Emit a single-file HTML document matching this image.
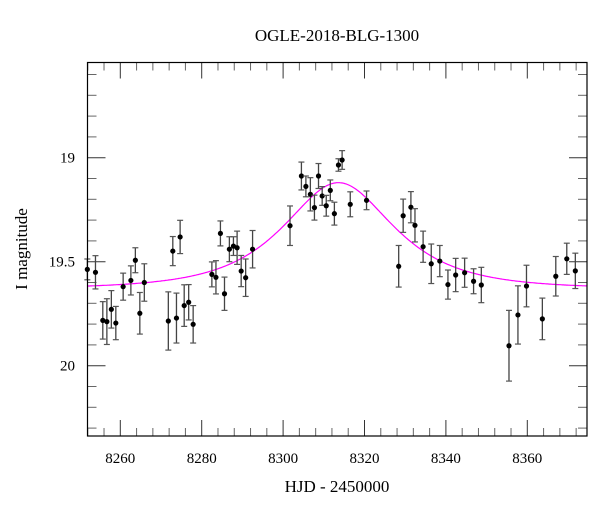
<!DOCTYPE html>
<html><head><meta charset="utf-8"><style>
body{margin:0;background:#fff}
svg text{font-family:"Liberation Serif",serif;fill:#000}
</style></head><body>
<svg id="chart" width="600" height="512" xmlns="http://www.w3.org/2000/svg">
<text x="337" y="41" font-size="17" text-anchor="middle">OGLE-2018-BLG-1300</text>
<text x="337" y="492" font-size="17" text-anchor="middle">HJD - 2450000</text>
<text x="27" y="249" font-size="17" text-anchor="middle" transform="rotate(-90 27 249)">I magnitude</text>
<g id="ticks"></g>
<g id="marks"></g>
<rect x="87.5" y="62.5" width="499.5" height="373.5" fill="none" stroke="#000" stroke-width="1.2"/>
</svg>
<script>
const days=[8251.9,8253.9,8255.7,8256.7,8257.8,8258.9,8260.7,8262.6,8263.7,8264.8,8265.9,8271.8,8272.9,8273.8,8274.7,8275.7,8276.8,8277.9,8282.5,8283.5,8284.6,8285.6,8286.8,8287.8,8288.7,8289.7,8290.8,8292.5,8301.7,8304.5,8305.6,8306.7,8307.7,8308.7,8309.6,8310.6,8311.6,8312.6,8313.6,8314.5,8316.5,8320.5,8328.4,8329.5,8331.4,8332.4,8334.4,8336.4,8338.5,8340.5,8342.4,8344.6,8346.8,8348.7,8355.5,8357.7,8359.8,8363.7,8367.0,8369.7,8371.8];
const mags=[19.537,19.551,19.782,19.788,19.729,19.795,19.62,19.59,19.493,19.748,19.6,19.785,19.449,19.771,19.381,19.711,19.695,19.801,19.561,19.575,19.364,19.654,19.44,19.425,19.433,19.545,19.577,19.44,19.327,19.088,19.138,19.176,19.24,19.088,19.184,19.231,19.157,19.269,19.035,19.011,19.224,19.205,19.522,19.279,19.238,19.325,19.428,19.51,19.497,19.61,19.564,19.553,19.594,19.612,19.904,19.756,19.617,19.775,19.57,19.486,19.544];
const errs=[0.05,0.08,0.09,0.11,0.09,0.08,0.065,0.07,0.06,0.1,0.09,0.14,0.07,0.12,0.08,0.1,0.085,0.09,0.06,0.08,0.06,0.08,0.06,0.045,0.08,0.075,0.09,0.09,0.095,0.067,0.05,0.08,0.06,0.06,0.045,0.05,0.05,0.055,0.03,0.045,0.06,0.045,0.1,0.08,0.075,0.08,0.075,0.095,0.075,0.07,0.08,0.07,0.06,0.085,0.17,0.14,0.1,0.1,0.095,0.075,0.085];
const xTicks=[8260,8280,8300,8320,8340,8360];
const yTicks=[19,19.5,20];
const model={t0:8313.6,tE:19.1,u0:0.75,base:19.63};
const L=87.5,R=587,T=62.5,B=436;
const xs=d=>120.3+(d-8260)*4.07;
const ys=m=>157.7+(m-19)*208;
const NS='http://www.w3.org/2000/svg';
function mk(p,tag,a){const e=document.createElementNS(NS,tag);for(const k in a)e.setAttribute(k,a[k]);p.appendChild(e);return e;}
const tg=document.getElementById('ticks');
for(let d=8252;d<=8374;d+=4){const x=xs(d);const maj=(d%20===0);const len=maj?16:8;
 const t1=mk(tg,'line',{x1:x,x2:x,y1:B,y2:B-len,stroke:maj?'#333':'#666','stroke-width':1});
 
 const t2=mk(tg,'line',{x1:x,x2:x,y1:T,y2:T+len,stroke:maj?'#333':'#666','stroke-width':1});
 }
for(let i=0;i<=18;i++){const m=18.6+i*0.1;const y=ys(m);if(y<T||y>B)continue;const maj=Math.abs(m*2-Math.round(m*2))<1e-6;const len=maj?18:9;
 const t1=mk(tg,'line',{x1:L,x2:L+len,y1:y,y2:y,stroke:maj?'#333':'#666','stroke-width':1});
 
 const t2=mk(tg,'line',{x1:R,x2:R-len,y1:y,y2:y,stroke:maj?'#333':'#666','stroke-width':1});
 }
xTicks.forEach(d=>{const t=mk(tg,'text',{x:xs(d),y:463,'font-size':15,'text-anchor':'middle'});t.textContent=d;
 });
yTicks.forEach(m=>{const t=mk(tg,'text',{x:75,y:ys(m)+5,'font-size':15,'text-anchor':'end'});t.textContent=m;
 });
const mg=document.getElementById('marks');
let pts=[];for(let x=L;x<=R;x+=1){const d=8260+(x-120.3)/4.07;const u=Math.sqrt(model.u0**2+((d-model.t0)/model.tE)**2);const A=(u*u+2)/(u*Math.sqrt(u*u+4));pts.push(x.toFixed(1)+','+ys(model.base-2.5*Math.log10(A)).toFixed(1));}
const pl=mk(mg,'polyline',{points:pts.join(' '),fill:'none',stroke:'#ff00ff','stroke-width':1.2});

days.forEach((d,i)=>{const x=xs(d),y=ys(mags[i]),e=errs[i]*208;
 const g=mk(mg,'g',{});
 
 mk(g,'line',{x1:x,x2:x,y1:Math.max(T,y-e),y2:Math.min(B,y+e),stroke:'#444','stroke-width':1.3});
 if(y-e>T)mk(g,'line',{x1:x-3,x2:x+3,y1:y-e,y2:y-e,stroke:'#555','stroke-width':1.2});
 if(y+e<B)mk(g,'line',{x1:x-3,x2:x+3,y1:y+e,y2:y+e,stroke:'#555','stroke-width':1.2});
 mk(g,'circle',{cx:x,cy:y,r:2.6,fill:'#000'});});
</script>
</body></html>
